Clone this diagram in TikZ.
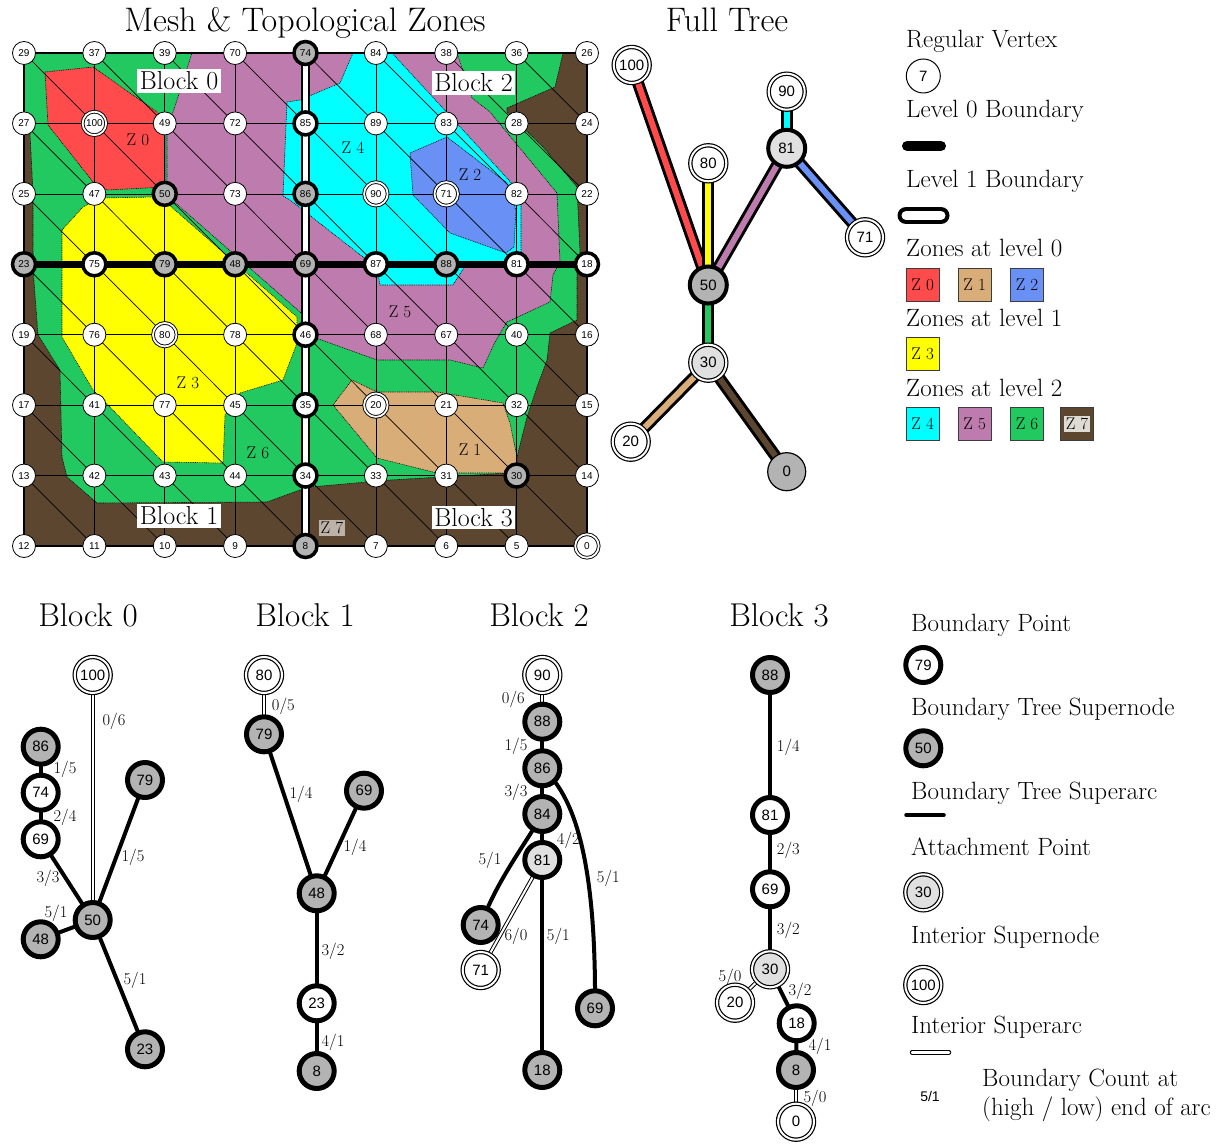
\documentclass[tikz,border=0pt]{standalone}
\usepackage{fontspec}
\setsansfont{Liberation Sans}
\definecolor{zA}{RGB}{255,75,75}
\definecolor{zB}{RGB}{217,173,120}
\definecolor{zC}{RGB}{104,144,245}
\definecolor{zD}{RGB}{255,255,0}
\definecolor{zE}{RGB}{0,255,255}
\definecolor{zF}{RGB}{190,123,174}
\definecolor{zG}{RGB}{34,200,96}
\definecolor{zH}{RGB}{92,70,48}
\definecolor{supg}{RGB}{179,179,179}
\definecolor{attg}{RGB}{224,224,224}
\definecolor{zsevbg}{RGB}{188,178,168}
\definecolor{zsevlg}{RGB}{222,218,212}
\pgfdeclarelayer{bg}
\pgfsetlayers{bg,main}
\newcommand\fsz[1]{\fontsize{#1}{#1}\selectfont}
\tikzset{
  zone/.style={draw=black, line width=0.6pt, dash pattern=on 0.9pt off 0.9pt},
  gridl/.style={draw=black, line width=0.7pt},
  mbase/.style={circle, draw=black, inner sep=0pt, font=\sffamily\fsz{10}},
  mr/.style={mbase, fill=white, minimum size=23pt, line width=0.8pt},
  mb/.style={mbase, fill=white, minimum size=23pt, line width=3.5pt},
  ms/.style={mbase, fill=supg, minimum size=23pt, line width=3.5pt},
  mi/.style={mbase, fill=white, minimum size=23.5pt, line width=0.9pt, double=white, double distance=1.8pt},
  tbase/.style={circle, draw=black, inner sep=0pt, font=\sffamily\fsz{15}},
  tb/.style={tbase, fill=white, minimum size=35pt, line width=5pt},
  ts/.style={tbase, fill=supg, minimum size=35pt, line width=5pt},
  ta/.style={tbase, fill=attg, minimum size=35pt, line width=5pt},
  ti/.style={tbase, fill=white, minimum size=36pt, line width=1.2pt, double=white, double distance=2pt},
  tai/.style={tbase, fill=attg, minimum size=36pt, line width=1.2pt, double=white, double distance=2pt},
  fs/.style={tbase, fill=supg, minimum size=37pt, line width=4pt},
  fa/.style={tbase, fill=attg, minimum size=37pt, line width=4pt},
  fg/.style={tbase, fill=supg, minimum size=38pt, line width=1.2pt},
  bedge/.style={draw=black, line width=4pt},
  iedge/.style={draw=black, line width=1pt, double=white, double distance=2pt},
  fedge/.style={draw=black, line width=3pt, double distance=6pt, double=#1},
  elab/.style={font=\fsz{16.5}, inner sep=0pt},
  zlab/.style={font=\fsz{17}, inner sep=0pt},
  blab/.style={font=\fsz{26}, fill=white, inner sep=2.5pt},
  ltxt/.style={font=\fsz{25}, anchor=base west, inner sep=0pt},
  ttl/.style={anchor=base, font=\fsz{34}, inner sep=0pt},
  swatch/.style={draw={rgb,255:red,60;green,60;blue,60}, line width=0.8pt, minimum size=33pt, inner sep=0pt, font=\fsz{17}},
}
\def\mn#1#2#3{\node[#1] (m#2) at (#3) {#2};}
\begin{document}
\begin{tikzpicture}[x=1pt,y=-1pt]
\useasboundingbox (0,0) rectangle (1227,1147);
% ---------- titles ----------
\node[ttl] (tmesh) at (305,32) {Mesh \& Topological Zones};
\node[ttl] (tfull) at (727,32) {Full Tree};
% ---------- grid coordinates ----------
\foreach \i in {0,...,8}{
  \foreach \j in {0,...,7}{
    \coordinate (g-\i-\j) at ({24+70.375*\i},{53+70.43*\j});
  }
}
% ---------- zones ----------
\fill[zG] (g-0-0) rectangle (g-8-7);
\path[fill=zH, zone] (24,128) -- (30,133) -- (33,193) -- (33,268) -- (38,335) -- (60,370) -- (62,457) -- (67,477) -- (97,503) -- (267,502) -- (300,490) -- (310,487) -- (390,480) -- (510,473) -- (517,473) -- (517,457) -- (527,417) -- (537,387) -- (547,360) -- (550,333) -- (577,320) -- (577,270) -- (580,253) -- (577,187) -- (543,147) -- (507,112) -- (507,108) -- (555,87) -- (563,53) -- (587,53) -- (587,546) -- (24,546) -- cycle;
\path[fill=zF, zone] (192,53) -- (457,53) -- (472,98) -- (490,112) -- (557,193) -- (560,262) -- (553,275) -- (550,302) -- (507,322) -- (495,342) -- (483,368) -- (450,360) -- (377,360) -- (313,337) -- (305,318) -- (300,312) -- (172,200) -- (167,195) -- (167,127) -- (173,112) -- (177,100) -- cycle;
\path[fill=zE, zone] (353,53) -- (392,53) -- (452,118) -- (516,188) -- (521,200) -- (521,262) -- (465,266) -- (453,285) -- (380,285) -- (377,268) -- (363,257) -- (290,200) -- (283,196) -- (287,102) -- (300,100) -- (340,83) -- cycle;
\path[fill=zC, zone] (447,137) -- (410,153) -- (413,195) -- (450,233) -- (506,253) -- (514,247) -- (516,210) -- (507,183) -- cycle;
\path[fill=zA, zone] (45,72) -- (93,67) -- (157,112) -- (165,122) -- (165,187) -- (108,190) -- (97,187) -- (48,125) -- cycle;
\path[fill=zD, zone] (62,230) -- (83,207) -- (100,198) -- (157,197) -- (168,204) -- (297,317) -- (297,343) -- (283,380) -- (240,393) -- (225,415) -- (223,463) -- (163,462) -- (110,407) -- (93,390) -- (62,337) -- cycle;
\path[fill=zB, zone] (333,405) -- (352,380) -- (377,392) -- (437,392) -- (503,403) -- (510,423) -- (517,457) -- (517,473) -- (437,473) -- (377,458) -- cycle;
% ---------- mesh lines ----------
\foreach \j in {0,...,7} \draw[gridl] (g-0-\j) -- (g-8-\j);
\foreach \i in {0,...,8} \draw[gridl] (g-\i-0) -- (g-\i-7);
\foreach \i [count=\ii from 1] in {0,...,7}{
  \foreach \j [count=\jj from 1] in {0,...,6}{
    \draw[gridl] (g-\i-\j) -- (g-\ii-\jj);
  }
}
\draw[line width=2.5pt] (g-0-0) rectangle (g-8-7);
\draw[line width=7pt] (g-0-3) -- (g-8-3);
\draw[line width=2.2pt, double=white, double distance=5.5pt] (g-4-0) -- (g-4-7);
% ---------- zone and block labels ----------
\node[zlab] (lz0) at (138,140) {Z 0};
\node[zlab] (lz4) at (353,148) {Z 4};
\node[zlab] (lz2) at (470,175) {Z 2};
\node[zlab] (lz3) at (188,383) {Z 3};
\node[zlab] (lz6) at (258,453) {Z 6};
\node[zlab] (lz5) at (400,312) {Z 5};
\node[zlab] (lz1) at (470,450) {Z 1};
\node[zlab, fill=zsevbg, inner sep=2pt] (lz7) at (332,528) {Z 7};
\node[blab] (lb0) at (179,81) {Block 0};
\node[blab] (lb2) at (473.5,83) {Block 2};
\node[blab] (lb1) at (179,516) {Block 1};
\node[blab] (lb3) at (473.5,517.5) {Block 3};
% ---------- mesh vertices ----------
\foreach \row [count=\j from 0] in {
 {29/mr,37/mr,39/mr,70/mr,74/ms,84/mr,38/mr,36/mr,26/mr},
 {27/mr,100/mi,49/mr,72/mr,85/mb,89/mr,83/mr,28/mr,24/mr},
 {25/mr,47/mr,50/ms,73/mr,86/ms,90/mi,71/mi,82/mr,22/mr},
 {23/ms,75/mb,79/ms,48/ms,69/ms,87/mb,88/ms,81/mb,18/mb},
 {19/mr,76/mr,80/mi,78/mr,46/mb,68/mr,67/mr,40/mr,16/mr},
 {17/mr,41/mr,77/mr,45/mr,35/mb,20/mi,21/mr,32/mr,15/mr},
 {13/mr,42/mr,43/mr,44/mr,34/mb,33/mr,31/mr,30/ms,14/mr},
 {12/mr,11/mr,10/mr,9/mr,8/ms,7/mr,6/mr,5/mr,0/mi}}{
  \foreach \l/\t [count=\i from 0] in \row {
    \expandafter\mn\expandafter{\t}{\l}{g-\i-\j}
  }
}
% ---------- full tree ----------
\node[ti] (f100) at (631.7,65) {100};
\node[ti] (f90) at (786.7,91.7) {90};
\node[fa] (f81) at (786.7,148.3) {81};
\node[ti] (f80) at (708.3,163.3) {80};
\node[ti] (f71) at (865,237.3) {71};
\node[fs] (f50) at (708.3,285) {50};
\node[tai] (f30) at (708.3,362.7) {30};
\node[ti] (f20) at (630.7,441.7) {20};
\node[fg] (f0) at (786.7,471.7) {0};
\begin{pgfonlayer}{bg}
\draw[fedge=zA] (f100.center) -- (f50.center);
\draw[fedge=zD] (f80.center) -- (f50.center);
\draw[fedge=zF] (f81.center) -- (f50.center);
\draw[fedge=zE] (f90.center) -- (f81.center);
\draw[fedge=zC] (f81.center) -- (f71.center);
\draw[fedge=zG] (f50.center) -- (f30.center);
\draw[fedge=zB] (f30.center) -- (f20.center);
\draw[fedge=zH] (f30.center) -- (f0.center);
\end{pgfonlayer}
% ---------- top legend ----------
\node[ltxt] (lg1) at (906,48) {Regular Vertex};
\node[tbase, fill=white, minimum size=34pt, line width=1pt] (lg7) at (923.3,76) {7};
\node[ltxt] (lg2) at (906,118) {Level 0 Boundary};
\coordinate (l0a) at (907,146);
\coordinate (l0b) at (941,146);
\draw[line width=10pt, line cap=round] (l0a) -- (l0b);
\node[ltxt] (lg3) at (906,188) {Level 1 Boundary};
\coordinate (l1a) at (906,215.5);
\coordinate (l1b) at (941,215.5);
\draw[line width=4pt, double=white, double distance=9pt, line cap=round] (l1a) -- (l1b);
\node[ltxt] (lg4) at (906,257) {Zones at level 0};
\node[swatch, fill=zA] (sw0) at (922.7,284.7) {Z 0};
\node[swatch, fill=zB] (sw1) at (974.7,284.7) {Z 1};
\node[swatch, fill=zC] (sw2) at (1027,284.7) {Z 2};
\node[ltxt] (lg5) at (906,327) {Zones at level 1};
\node[swatch, fill=zD] (sw3) at (922.7,354.2) {Z 3};
\node[ltxt] (lg6) at (906,397) {Zones at level 2};
\node[swatch, fill=zE] (sw4) at (922.7,424) {Z 4};
\node[swatch, fill=zF] (sw5) at (974.7,424) {Z 5};
\node[swatch, fill=zG] (sw6) at (1027,424) {Z 6};
\node[swatch, fill=zH] (sw7) at (1077,424) {};
\node[zlab, fill=zsevlg, inner sep=2pt] (sw7t) at (sw7) {Z 7};
% ---------- block titles ----------
\node[ttl, font=\fsz{33}] (tb0) at (88,626) {Block 0};
\node[ttl, font=\fsz{33}] (tb1) at (305,626) {Block 1};
\node[ttl, font=\fsz{33}] (tb2) at (539,626) {Block 2};
\node[ttl, font=\fsz{33}] (tb3) at (779,626) {Block 3};
% ---------- block 0 ----------
\node[ti] (a100) at (92.7,675) {100};
\node[ts] (a86) at (40.7,746.7) {86};
\node[tb] (a74) at (40.7,792.7) {74};
\node[tb] (a69) at (40.7,839.3) {69};
\node[ts] (a79) at (145,780) {79};
\node[ts] (a50) at (92.7,920) {50};
\node[ts] (a48) at (40.7,939.3) {48};
\node[ts] (a23) at (145,1049.3) {23};
\begin{pgfonlayer}{bg}
\draw[iedge] (a100.center) -- (a50.center);
\draw[bedge] (a86.center) -- (a74.center);
\draw[bedge] (a74.center) -- (a69.center);
\draw[bedge] (a69.center) -- (a50.center);
\draw[bedge] (a79.center) -- (a50.center);
\draw[bedge] (a48.center) -- (a50.center);
\draw[bedge] (a23.center) -- (a50.center);
\end{pgfonlayer}
\node[elab] (ea1) at (114,721.7) {0/6};
\node[elab] (ea2) at (65,769) {1/5};
\node[elab] (ea3) at (65,817) {2/4};
\node[elab] (ea4) at (48,878) {3/3};
\node[elab] (ea5) at (133,857) {1/5};
\node[elab] (ea6) at (56,913) {5/1};
\node[elab] (ea7) at (135,980) {5/1};
% ---------- block 1 ----------
\node[ti] (b80) at (264,675) {80};
\node[ts] (b79) at (264,734.3) {79};
\node[ts] (b69) at (364,790.7) {69};
\node[ts] (b48) at (316.7,893.3) {48};
\node[tb] (b23) at (316.7,1003.3) {23};
\node[ts] (b8) at (316.7,1071) {8};
\begin{pgfonlayer}{bg}
\draw[iedge] (b80.center) -- (b79.center);
\draw[bedge] (b79.center) -- (b48.center);
\draw[bedge] (b69.center) -- (b48.center);
\draw[bedge] (b48.center) -- (b23.center);
\draw[bedge] (b23.center) -- (b8.center);
\end{pgfonlayer}
\node[elab] (eb1) at (283.3,706) {0/5};
\node[elab] (eb2) at (301,794) {1/4};
\node[elab] (eb3) at (355,847) {1/4};
\node[elab] (eb4) at (333,951.7) {3/2};
\node[elab] (eb5) at (333,1042.7) {4/1};
% ---------- block 2 ----------
\node[ti] (c90) at (542.3,675) {90};
\node[ts] (c88) at (542.3,721.7) {88};
\node[ts] (c86) at (542.3,768.3) {86};
\node[ts] (c84) at (542.3,814) {84};
\node[ta] (c81) at (542.3,860) {81};
\node[ts] (c74) at (480.7,925) {74};
\node[ti] (c71) at (480.7,970) {71};
\node[ts] (c69) at (595,1008.3) {69};
\node[ts] (c18) at (542.3,1070) {18};
\begin{pgfonlayer}{bg}
\draw[iedge] (c90.center) -- (c88.center);
\draw[bedge] (c88.center) -- (c86.center);
\draw[bedge] (c86.center) -- (c84.center);
\draw[bedge] (c84.center) -- (c81.center);
\draw[bedge] (c84.center) .. controls (525,845) and (497,880) .. (c74.center);
\draw[iedge] (c81.center) -- (c71.center);
\draw[bedge] (c81.center) -- (c18.center);
\draw[bedge] (c86.center) .. controls (580,800) and (596,880) .. (c69.center);
\end{pgfonlayer}
\node[elab] (ec1) at (513.3,699.3) {0/6};
\node[elab] (ec2) at (516,746.7) {1/5};
\node[elab] (ec3) at (516,792.7) {3/3};
\node[elab] (ec4) at (568.3,840) {4/2};
\node[elab] (ec5) at (490,860) {5/1};
\node[elab] (ec6) at (516,936.7) {6/0};
\node[elab] (ec7) at (558.3,936.7) {5/1};
\node[elab] (ec8) at (608.3,878.3) {5/1};
% ---------- block 3 ----------
\node[ts] (d88) at (770,675) {88};
\node[tb] (d81) at (770,815) {81};
\node[tb] (d69) at (770,889.3) {69};
\node[tai] (d30) at (770,969.3) {30};
\node[ti] (d20) at (735,1002.7) {20};
\node[tb] (d18) at (796.7,1023.3) {18};
\node[ts] (d8) at (796,1070) {8};
\node[ti] (d0) at (796,1121.7) {0};
\begin{pgfonlayer}{bg}
\draw[bedge] (d88.center) -- (d81.center);
\draw[bedge] (d81.center) -- (d69.center);
\draw[bedge] (d69.center) -- (d30.center);
\draw[iedge] (d30.center) -- (d20.center);
\draw[bedge] (d30.center) -- (d18.center);
\draw[bedge] (d18.center) -- (d8.center);
\draw[iedge] (d8.center) -- (d0.center);
\end{pgfonlayer}
\node[elab] (ed1) at (788.3,747.3) {1/4};
\node[elab] (ed2) at (788.3,850.7) {2/3};
\node[elab] (ed3) at (788.3,930.7) {3/2};
\node[elab] (ed4) at (730,977.3) {5/0};
\node[elab] (ed5) at (800,991.7) {3/2};
\node[elab] (ed6) at (820,1046) {4/1};
\node[elab] (ed7) at (815,1098.3) {5/0};
% ---------- bottom legend ----------
\node[ltxt] (lh1) at (911,631.7) {Boundary Point};
\node[tb] (lk79) at (923.3,665) {79};
\node[ltxt] (lh2) at (911,715) {Boundary Tree Supernode};
\node[ts] (lk50) at (923.3,748.3) {50};
\node[ltxt] (lh3) at (911,799.3) {Boundary Tree Superarc};
\coordinate (lsa) at (906,815);
\coordinate (lsb) at (944,815);
\draw[line width=3.5pt, line cap=round] (lsa) -- (lsb);
\node[ltxt] (lh4) at (911,855) {Attachment Point};
\node[tai] (lk30) at (923.3,892.3) {30};
\node[ltxt] (lh5) at (911,943.3) {Interior Supernode};
\node[ti] (lk100) at (923.3,985) {100};
\node[ltxt] (lh6) at (911,1033.3) {Interior Superarc};
\coordinate (lia) at (912,1052.3);
\coordinate (lib) at (949,1052.3);
\draw[line width=1pt, double=white, double distance=2.5pt, line cap=round] (lia) -- (lib);
\node[font=\sffamily\fsz{14}, inner sep=0pt] (lk51) at (930,1096) {5/1};
\node[ltxt] (lh7) at (982,1086.7) {Boundary Count at};
\node[ltxt] (lh8) at (982,1115) {(high / low) end of arc};
\end{tikzpicture}
\end{document}
